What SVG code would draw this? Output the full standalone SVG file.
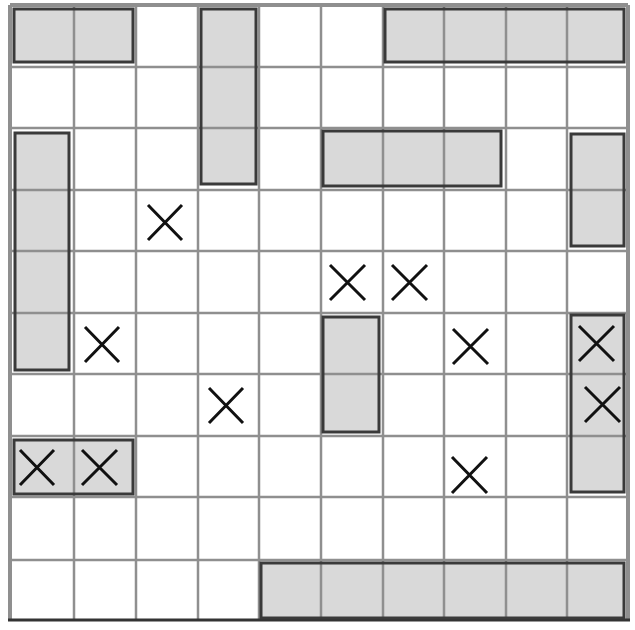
<svg xmlns="http://www.w3.org/2000/svg" width="635" height="630" viewBox="0 0 635 630">
<style>
.ship{fill:#d9d9d9;stroke:none}
.shipb{fill:none;stroke:#3a3a3a;stroke-width:3}
.grid line{stroke:#8f8f8f;stroke-width:2.5}
.x{stroke:#111;stroke-width:3;fill:none;stroke-linecap:butt}
</style>
<rect x="0" y="0" width="635" height="630" fill="#fff"/>
<g id="ship-fills">
<rect class="ship" x="14" y="9" width="119" height="53"/>
<rect class="ship" x="201" y="9" width="55" height="175"/>
<rect class="ship" x="385" y="9" width="239" height="53"/>
<rect class="ship" x="15" y="133" width="54" height="237"/>
<rect class="ship" x="323" y="131" width="178" height="55"/>
<rect class="ship" x="571" y="134" width="53" height="112"/>
<rect class="ship" x="323" y="317" width="56" height="115"/>
<rect class="ship" x="571" y="315" width="53" height="177"/>
<rect class="ship" x="14" y="440" width="119" height="54"/>
<rect class="ship" x="261" y="563" width="363" height="55"/>
</g>
<g class="grid" id="grid">
<line x1="74" y1="5" x2="74" y2="620"/>
<line x1="136" y1="5" x2="136" y2="620"/>
<line x1="198" y1="5" x2="198" y2="620"/>
<line x1="259" y1="5" x2="259" y2="620"/>
<line x1="321" y1="5" x2="321" y2="620"/>
<line x1="383" y1="5" x2="383" y2="620"/>
<line x1="444" y1="5" x2="444" y2="620"/>
<line x1="506" y1="5" x2="506" y2="620"/>
<line x1="567" y1="5" x2="567" y2="620"/>
<line x1="10" y1="67" x2="628" y2="67"/>
<line x1="10" y1="128" x2="628" y2="128"/>
<line x1="10" y1="190" x2="628" y2="190"/>
<line x1="10" y1="251" x2="628" y2="251"/>
<line x1="10" y1="313" x2="628" y2="313"/>
<line x1="10" y1="374" x2="628" y2="374"/>
<line x1="10" y1="436" x2="628" y2="436"/>
<line x1="10" y1="497" x2="628" y2="497"/>
<line x1="10" y1="560" x2="628" y2="560"/>
<line x1="10" y1="5" x2="10" y2="620" style="stroke-width:4"/>
<line x1="628" y1="5" x2="628" y2="620" style="stroke-width:4"/>
<line x1="10" y1="5" x2="628" y2="5" style="stroke-width:4"/>
<line x1="8" y1="620" x2="630" y2="620" style="stroke:#333;stroke-width:3"/>
</g>
<g id="ship-2a"><rect class="shipb" x="14" y="9" width="119" height="53"/></g>
<g id="ship-3a"><rect class="shipb" x="201" y="9" width="55" height="175"/></g>
<g id="ship-4a"><rect class="shipb" x="385" y="9" width="239" height="53"/></g>
<g id="ship-4b"><rect class="shipb" x="15" y="133" width="54" height="237"/></g>
<g id="ship-3b"><rect class="shipb" x="323" y="131" width="178" height="55"/></g>
<g id="ship-2b"><rect class="shipb" x="571" y="134" width="53" height="112"/></g>
<g id="ship-2c"><rect class="shipb" x="323" y="317" width="56" height="115"/></g>
<g id="ship-3c"><rect class="shipb" x="571" y="315" width="53" height="177"/></g>
<g id="ship-2d"><rect class="shipb" x="14" y="440" width="119" height="54"/></g>
<g id="ship-6"><rect class="shipb" x="261" y="563" width="363" height="55"/></g>
<g id="marks">
<path class="x" d="M148,205 L182,240 M182,205 L148,240"/>
<path class="x" d="M330,265 L365,300 M365,265 L330,300"/>
<path class="x" d="M392,265 L427,300 M427,265 L392,300"/>
<path class="x" d="M85,327 L119,362 M119,327 L85,362"/>
<path class="x" d="M453,329 L488,364 M488,329 L453,364"/>
<path class="x" d="M579,326 L614,361 M614,326 L579,361"/>
<path class="x" d="M209,388 L243,423 M243,388 L209,423"/>
<path class="x" d="M585,387 L620,422 M620,387 L585,422"/>
<path class="x" d="M20,450 L54,485 M54,450 L20,485"/>
<path class="x" d="M82,450 L117,485 M117,450 L82,485"/>
<path class="x" d="M452,457 L487,493 M487,457 L452,493"/>
</g>
</svg>
